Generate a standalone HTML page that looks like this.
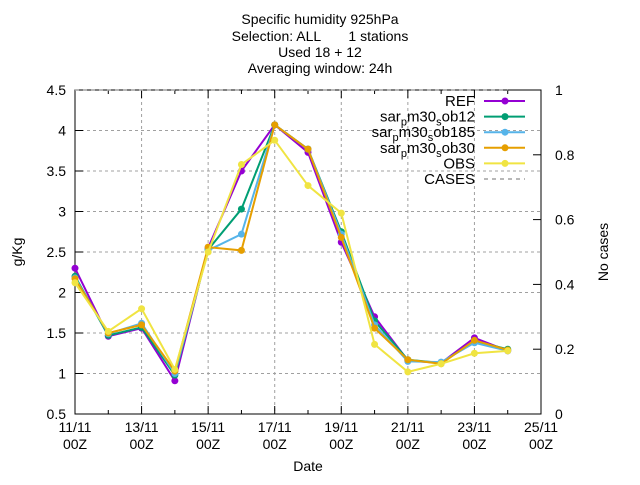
<!DOCTYPE html>
<html><head><meta charset="utf-8"><style>
body{margin:0;background:#fff}
svg{font-family:"Liberation Sans",sans-serif;font-size:14px}
</style></head><body>
<svg id="chart" width="640" height="480" xmlns="http://www.w3.org/2000/svg">
<g text-anchor="middle" font-size="14">
<text x="320" y="24">Specific humidity 925hPa</text>
<text x="320" y="41">Selection: ALL&#160;&#160;&#160;&#160;&#160;&#160; 1 stations</text>
<text x="320" y="57">Used 18 + 12</text>
<text x="320" y="73">Averaging window: 24h</text>
</g>
<g id="grid"></g><g id="axes"></g><g id="series"></g><g id="legend"></g>
<text x="308" y="471" text-anchor="middle">Date</text>
<text transform="translate(22,252) rotate(-90)" text-anchor="middle">g/Kg</text>
<text transform="translate(608,252) rotate(-90)" text-anchor="middle">No cases</text>
</svg>
<script>
const seriesNames=["REF","sar_pm30_sob12","sar_pm30_sob185","sar_pm30_sob30","OBS"];
const ref=[2.3,1.46,1.56,0.91,2.55,3.5,4.07,3.73,2.62,1.7,1.16,1.13,1.44,1.28];
const ob12=[2.2,1.47,1.57,0.98,2.53,3.03,4.07,3.77,2.75,1.65,1.17,1.13,1.40,1.3];
const ob185=[2.18,1.49,1.62,1.0,2.52,2.72,4.07,3.77,2.72,1.6,1.15,1.14,1.38,1.28];
const ob30=[2.17,1.5,1.6,1.03,2.56,2.52,4.07,3.77,2.68,1.56,1.17,1.12,1.41,1.29];
const obs=[2.12,1.52,1.8,1.05,2.5,3.58,3.88,3.32,2.98,1.36,1.02,1.12,1.25,1.28];
const cases=[1,1,1,1,1,1,1,1,1,1,1,1,1,1];
const yTicks=[0.5,1,1.5,2,2.5,3,3.5,4,4.5];
const y2Ticks=[0,0.2,0.4,0.6,0.8,1];
const xTickLabels=["11/11","13/11","15/11","17/11","19/11","21/11","23/11","25/11"];
const NS="http://www.w3.org/2000/svg";
const L=75,R=541,T=90,B=414;
const x=d=>L+(R-L)*d/14;
const y=v=>B-(v-0.5)/4*(B-T);
const y2=v=>B-v*(B-T);
function mk(t,a,p){const e=document.createElementNS(NS,t);for(const k in a)e.setAttribute(k,a[k]);p.appendChild(e);return e;}
const grid=document.getElementById('grid'),axes=document.getElementById('axes'),ser=document.getElementById('series'),leg=document.getElementById('legend');
yTicks.forEach(v=>{
 if(v>0.5&&v<4.5){const g=mk('line',{x1:L,x2:R,y1:y(v),y2:y(v),stroke:'#a0a0a0','stroke-dasharray':'3,3'},grid);
 
 }
 mk('line',{x1:L,x2:L+8,y1:y(v),y2:y(v),stroke:'#000'},axes);
 const t=mk('text',{x:L-9,y:y(v)+5,'text-anchor':'end'},axes);t.textContent=v;
 
 
});
y2Ticks.forEach(v=>{
 mk('line',{x1:R-8,x2:R,y1:y2(v),y2:y2(v),stroke:'#000'},axes);
 const t=mk('text',{x:R+14,y:y2(v)+5},axes);t.textContent=v;
 
 
});
for(let d=0;d<=14;d++){
 const len=d%2==0?8:4;
 mk('line',{x1:x(d),x2:x(d),y1:B,y2:B-len,stroke:'#000'},axes);
 mk('line',{x1:x(d),x2:x(d),y1:T,y2:T+len,stroke:'#000'},axes);
 if(d%2==0){
  if(d>0&&d<14){const g=mk('line',{x1:x(d),x2:x(d),y1:T,y2:B,stroke:'#a0a0a0','stroke-dasharray':'3,3'},grid);
  
  }
  const t=mk('text',{x:x(d),y:B+18,'text-anchor':'middle'},axes);t.textContent=xTickLabels[d/2];
  
  
  const t2=mk('text',{x:x(d),y:B+35,'text-anchor':'middle'},axes);t2.textContent="00Z";
 }
}
const frame=mk('rect',{x:L,y:T,width:R-L,height:B-T,fill:'none',stroke:'#000'},axes);


const casesLine=mk('polyline',{points:cases.map((v,i)=>x(i)+','+y2(v)).join(' '),fill:'none',stroke:'#a0a0a0','stroke-dasharray':'4,4','stroke-width':1.5},ser);


const data=[ref,ob12,ob185,ob30,obs];
const cols=['#9400d3','#009e73','#56b4e9','#e69f00','#f0e442'];
const legendLabels=[["REF"],["sar","p","m30","s","ob12"],["sar","p","m30","s","ob185"],["sar","p","m30","s","ob30"],["OBS"]];
const names=['ref-line','ob12-line','ob185-line','ob30-line','obs-line'];
const LS=15.6;
data.forEach((arr,k)=>{
 const g=mk('g',{},ser);
 
 
 mk('polyline',{points:arr.map((v,i)=>x(i)+','+y(v)).join(' '),fill:'none',stroke:cols[k],'stroke-width':2},g);
 arr.forEach((v,i)=>{const c=mk('circle',{cx:x(i),cy:y(v),r:3.5,fill:cols[k]},g);
  
  });
 const ly=101+k*LS;
 const t=mk('text',{x:475,y:ly+5,'text-anchor':'end','font-size':'15'},leg);
 legendLabels[k].forEach((s,j)=>{const ts=mk('tspan',{},t);ts.textContent=s;
  if(j==1||j==3){ts.setAttribute('dy','4');ts.setAttribute('font-size','11');}
  else if(j>1){ts.setAttribute('dy','-4');}});
 
 
 mk('line',{x1:484,x2:525,y1:ly,y2:ly,stroke:cols[k],'stroke-width':2},leg);
 mk('circle',{cx:505,cy:ly,r:3.5,fill:cols[k]},leg);
});
const cy=101+5*LS;
const ct=mk('text',{x:475,y:cy+5,'text-anchor':'end','font-size':'15'},leg);ct.textContent="CASES";


mk('line',{x1:484,x2:525,y1:cy,y2:cy,stroke:'#a0a0a0','stroke-dasharray':'4,4','stroke-width':1.5},leg);
</script>
</body></html>
